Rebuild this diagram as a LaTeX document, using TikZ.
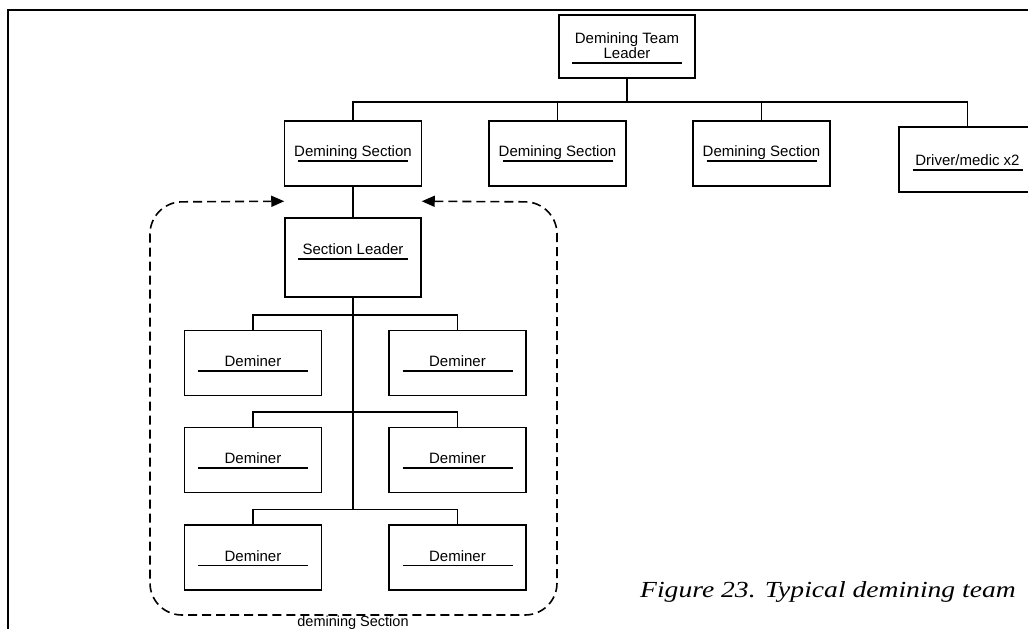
\documentclass[tikz,border=0pt]{standalone}
\usepackage{fontspec}
\setsansfont{Liberation Sans}
\newfontfamily\capfont[FakeStretch=1.2]{Liberation Serif}
\usetikzlibrary{arrows.meta,calc}
\newcommand\ulbox[1]{\begin{tabular}[b]{@{}c@{}}#1\\[-9.5pt]\rule{110pt}{1.4pt}\end{tabular}}
\begin{document}
\begin{tikzpicture}[x=1pt,y=-1pt,
  box/.style={draw, line width=1.5pt, minimum width=137pt, minimum height=65pt,
    inner sep=0pt, text depth=0pt, text height=16.3pt,
    font=\sffamily\fontsize{15}{14.5}\selectfont},
  conn/.style={line width=1.5pt},
  thickconn/.style={line width=2.4pt},
  grp/.style={line width=1.6pt, dash pattern=on 9pt off 5pt, rounded corners=32pt,
    {Triangle[length=13pt,width=11pt]}-{Triangle[length=13pt,width=11pt]}},
  lbl/.style={font=\sffamily\fontsize{14.5}{14.5}\selectfont, inner sep=0pt}]
\useasboundingbox (0,0) rectangle (1028,629);
\clip (0,0) rectangle (1028,629);
% frame
\draw[line width=2pt] (8,640) -- (8,10) -- (1040,10);
% nodes
\node[box, minimum width=136pt, minimum height=63pt, text height=34.3pt] (tl) at (627,46.5) {\ulbox{Demining Team\\Leader}};
\node[box] (sec1) at (353,153.5) {\ulbox{Demining Section}};
\node[box] (sec2) at (557.5,153.5) {\ulbox{Demining Section}};
\node[box] (sec3) at (761.5,153.5) {\ulbox{Demining Section}};
\node[box, text height=22.3pt] (drv) at (967.5,159.5) {\ulbox{Driver/medic x2}};
\node[box, minimum width=136pt, minimum height=79pt, text height=4.3pt] (sl) at (353,257.5) {\ulbox{Section Leader}};
\node[box, text height=17.2pt] (d11) at (253,363) {\ulbox{Deminer}};
\node[box, text height=17.2pt] (d12) at (457.5,363) {\ulbox{Deminer}};
\node[box, text height=17.2pt] (d21) at (253,460) {\ulbox{Deminer}};
\node[box, text height=17.2pt] (d22) at (457.5,460) {\ulbox{Deminer}};
\node[box, text height=17.2pt] (d31) at (253,557.5) {\ulbox{Deminer}};
\node[box, text height=17.2pt] (d32) at (457.5,557.5) {\ulbox{Deminer}};
% top connectors
\draw[thickconn] (tl.south) -- ++(0,23) coordinate (bus);
\draw[conn] (bus) -| (sec1.north);
\draw[conn] (bus) -| (sec2.north);
\draw[conn] (bus) -| (sec3.north);
\draw[conn] (bus) -| (drv.north);
\draw[thickconn] (sec1.north |- bus) -- (sec3.north |- bus);
\draw[conn] (sec1.south) -- (sl.north);
% deminer rows
\draw[conn] (d11.north) -- ++(0,-15) coordinate (b1) -| (d12.north);
\draw[conn] (d21.north) -- ++(0,-15) coordinate (b2) -| (d22.north);
\draw[conn] (d31.north) -- ++(0,-15) coordinate (b3) -| (d32.north);
% trunk
\draw[thickconn, line width=2.2pt] (sl.south) -- (sl.south |- b3);
% dashed group
\coordinate (aL) at ($(sl.north west)+(0,-16)$);
\coordinate (aR) at ($(sl.north east)+(0,-16)$);
\draw[grp] (aR) -- (557,202) -- (557,615) -- (150,615) -- (150,202) -- (aL);
\node[lbl, anchor=base] (glabel) at (353,626.5) {demining Section};
% caption
\node[anchor=base west, inner sep=0pt, font=\capfont\itshape\fontsize{23}{23}\selectfont] (cap) at (640,597) {Figure 23. Typical demining team};
\end{tikzpicture}
\end{document}
